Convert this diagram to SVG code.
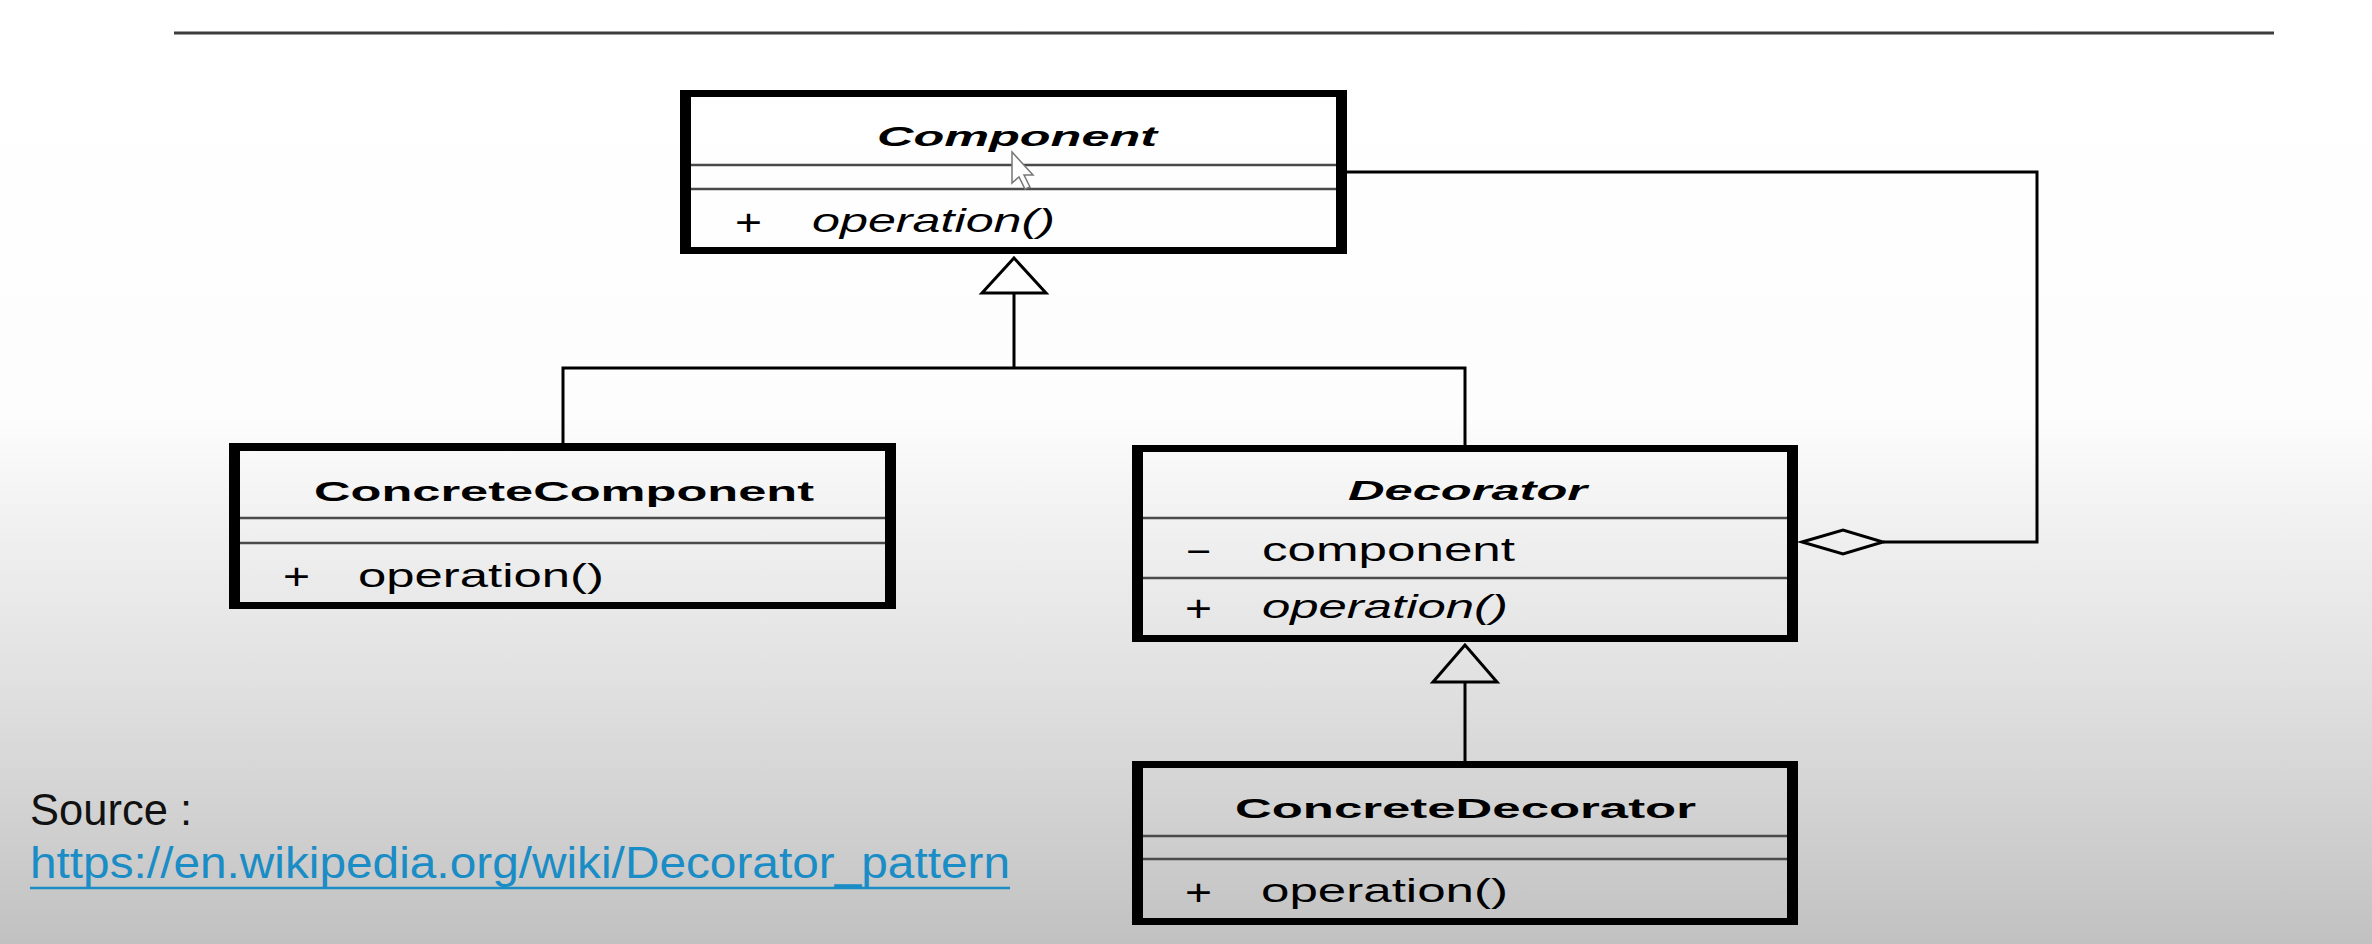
<svg xmlns="http://www.w3.org/2000/svg" width="2372" height="944" viewBox="0 0 2372 944">
<defs>
<linearGradient id="bg" x1="0" y1="0" x2="0" y2="1">
<stop offset="0" stop-color="#ffffff"/>
<stop offset="0.44" stop-color="#fdfdfd"/>
<stop offset="0.55" stop-color="#f1f1f1"/>
<stop offset="0.70" stop-color="#e3e3e3"/>
<stop offset="0.85" stop-color="#d3d3d3"/>
<stop offset="1" stop-color="#c1c1c1"/>
</linearGradient>
<style>
.frame{fill:#000;fill-rule:evenodd;stroke:none}
.sep{stroke:#4a4a4a;stroke-width:2.5;fill:none}
.title{font-family:"Liberation Sans",Arial,sans-serif;font-weight:bold;font-size:27px;fill:#000}
.abs{font-style:italic}
.mem{font-family:"Liberation Sans",Arial,sans-serif;font-size:33px;fill:#000}
.sym{font-family:"Liberation Sans",Arial,sans-serif;font-size:37px;fill:#000}
.it{font-style:italic}
.conn{stroke:#000;stroke-width:3;fill:none}
.head{stroke:#000;stroke-width:3;fill:none;stroke-linejoin:miter}
.src{font-family:"Liberation Sans Narrow","Liberation Sans",Arial,sans-serif;font-size:45px;fill:#111}
.url{font-family:"Liberation Sans Narrow","Liberation Sans",Arial,sans-serif;font-size:45px;fill:#1a8cc6}
</style>
</defs>
<rect x="0" y="0" width="2372" height="944" fill="url(#bg)"/>
<line x1="174" y1="33" x2="2274" y2="33" stroke="#3c3c3c" stroke-width="3"/>

<g id="connectors">
<polyline class="conn" points="1014,293 1014,368"/>
<polyline class="conn" points="563,443 563,368 1465,368 1465,445"/>
<polygon class="head" points="1014,258 982,293 1046,293"/>
<polyline class="conn" points="1465,682 1465,761"/>
<polygon class="head" points="1465,645 1433,682 1497,682"/>
<polyline class="conn" points="1347,172 2037,172 2037,542 1883,542"/>
<polygon class="head" points="1802,542 1843,530 1883,542 1843,554"/>
</g>

<g id="component">
<path class="frame" d="M680,90 H1347 V254 H680 Z M691,97 V247 H1336 V97 Z"/>
<line class="sep" x1="691" y1="165" x2="1336" y2="165"/>
<line class="sep" x1="691" y1="189" x2="1336" y2="189"/>
<text class="title abs" x="877" y="146" textLength="280" lengthAdjust="spacingAndGlyphs">Component</text>
<text class="sym" x="735" y="235" textLength="27" lengthAdjust="spacingAndGlyphs">+</text>
<text class="mem it" x="812" y="232" textLength="243" lengthAdjust="spacingAndGlyphs">operation()</text>
</g>

<g id="concrete-component">
<path class="frame" d="M229,443 H896 V609 H229 Z M240,451 V602 H885 V451 Z"/>
<line class="sep" x1="240" y1="518" x2="885" y2="518"/>
<line class="sep" x1="240" y1="543" x2="885" y2="543"/>
<text class="title" x="314" y="501" textLength="500" lengthAdjust="spacingAndGlyphs">ConcreteComponent</text>
<text class="sym" x="283" y="589" textLength="27" lengthAdjust="spacingAndGlyphs">+</text>
<text class="mem" x="358" y="587" textLength="246" lengthAdjust="spacingAndGlyphs">operation()</text>
</g>

<g id="decorator">
<path class="frame" d="M1132,445 H1798 V642 H1132 Z M1143,452 V635 H1787 V452 Z"/>
<line class="sep" x1="1143" y1="518" x2="1787" y2="518"/>
<line class="sep" x1="1143" y1="578" x2="1787" y2="578"/>
<text class="title abs" x="1348" y="500" textLength="239" lengthAdjust="spacingAndGlyphs">Decorator</text>
<text class="sym" x="1186" y="564" textLength="25" lengthAdjust="spacingAndGlyphs">−</text>
<text class="mem" x="1262" y="561" textLength="253" lengthAdjust="spacingAndGlyphs">component</text>
<text class="sym" x="1185" y="621" textLength="27" lengthAdjust="spacingAndGlyphs">+</text>
<text class="mem it" x="1262" y="618" textLength="246" lengthAdjust="spacingAndGlyphs">operation()</text>
</g>

<g id="concrete-decorator">
<path class="frame" d="M1132,761 H1798 V925 H1132 Z M1143,768 V918 H1787 V768 Z"/>
<line class="sep" x1="1143" y1="836" x2="1787" y2="836"/>
<line class="sep" x1="1143" y1="859" x2="1787" y2="859"/>
<text class="title" x="1235" y="818" textLength="461" lengthAdjust="spacingAndGlyphs">ConcreteDecorator</text>
<text class="sym" x="1185" y="905" textLength="27" lengthAdjust="spacingAndGlyphs">+</text>
<text class="mem" x="1261" y="902" textLength="247" lengthAdjust="spacingAndGlyphs">operation()</text>
</g>

<g id="source">
<text class="src" x="30" y="825" textLength="162" lengthAdjust="spacingAndGlyphs">Source :</text>
<text class="url" x="30" y="878" textLength="980" lengthAdjust="spacingAndGlyphs">https://en.wikipedia.org/wiki/Decorator_pattern</text>
<line x1="30" y1="888" x2="1010" y2="888" stroke="#1a8cc6" stroke-width="2.5"/>
</g>

<path id="cursor" d="M1012,152 L1012,183 L1019,177 L1025,189 L1030,187 L1024,175 L1033,175 Z" fill="#fff" stroke="#777" stroke-width="1.5"/>
</svg>
